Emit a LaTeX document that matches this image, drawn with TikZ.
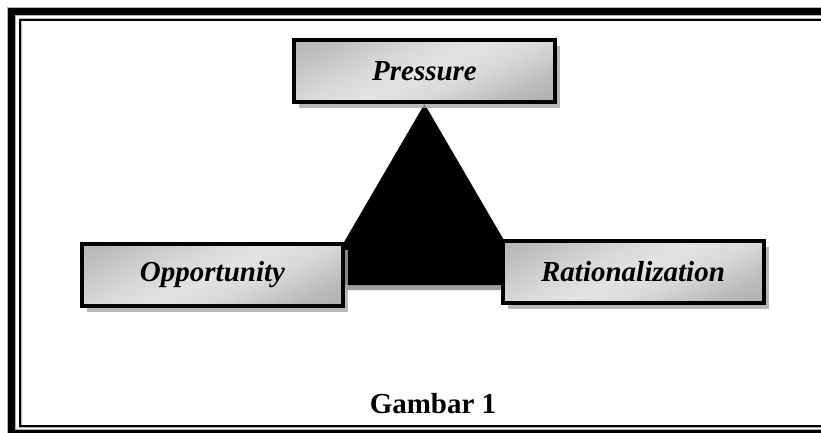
\documentclass[tikz,border=0pt]{standalone}
\usepackage{fontspec}
\setmainfont{Liberation Serif}
\usetikzlibrary{shadows}
\pgfdeclarelayer{background}
\pgfsetlayers{background,main}
\pgfdeclareverticalshading{boxshade}{100bp}{%
  color(0bp)=(gray!80); color(25bp)=(gray!55); color(40bp)=(gray!30);
  color(50bp)=(gray!22); color(60bp)=(gray!30); color(75bp)=(gray!50);
  color(100bp)=(gray!75)}
\begin{document}
\begin{tikzpicture}[x=1pt,y=-1pt,
  fbox/.style={draw=black, line width=4pt, minimum width=261pt, minimum height=62pt,
    inner sep=0pt, shading=boxshade, shading angle=25,
    drop shadow={shadow xshift=5pt, shadow yshift=-6pt, fill=gray!70, opacity=0.8},
    font=\fontsize{29}{34}\selectfont\bfseries\itshape},
  caption/.style={font=\fontsize{29}{34}\selectfont\bfseries, inner sep=0pt}
]
\useasboundingbox (0,0) rectangle (821,433);
\clip (0,0) rectangle (821,433);
% frame
\draw[gray!60, line width=8.6pt] (11.5,11.5) rectangle (900,432.8);
\draw[black, line width=6.6pt] (11.5,11.5) rectangle (900,432.8);
\draw[gray!60, line width=3pt] (20.3,20) rectangle (900,426);
\draw[black, line width=2.2pt] (20.3,20) rectangle (900,426);
% boxes
\node[fbox] (P) at (424.5,71) {Pressure};
\node[fbox] (O) at (212.5,275) {Opportunity};
\node[fbox] (R) at (633,272) {Rationalization};
\coordinate (bl) at (319,285);
\coordinate (br) at (530,285);
\begin{pgfonlayer}{background}
\fill[black, drop shadow={shadow xshift=3pt, shadow yshift=-5pt, fill=gray!75, opacity=1}]
  (P.south) -- (br) -- (bl) -- cycle;
\end{pgfonlayer}
\node[caption, anchor=base] (G) at (433,413) {Gambar 1};
\end{tikzpicture}
\end{document}
